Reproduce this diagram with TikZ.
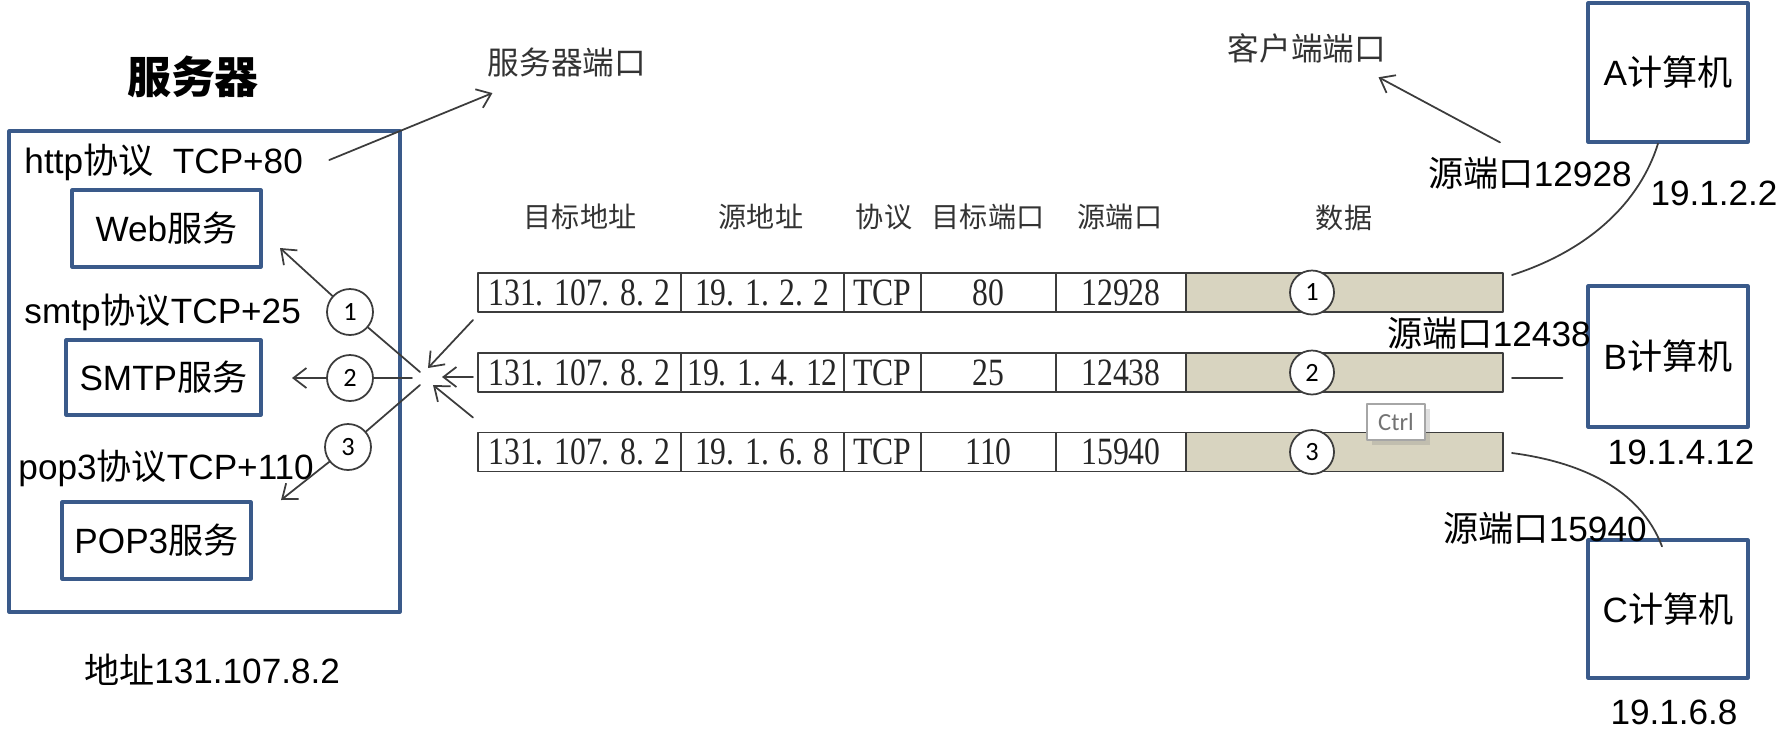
\documentclass[tikz,border=0pt]{standalone}
\usepackage{fontspec}
\usepackage{graphicx}
\setmainfont{Liberation Sans}
\newfontfamily\cjk{Noto Sans CJK SC}
\newfontfamily\tblfont{Liberation Serif}
\newfontfamily\numfont{Carlito}
\usetikzlibrary{arrows.meta,positioning,shadows}
\definecolor{boxblue}{RGB}{58,90,138}
\definecolor{datafill}{RGB}{216,212,192}
\definecolor{linegray}{RGB}{60,60,60}
\newcommand{\zh}[1]{{\cjk #1}}
\newcommand{\tbl}[1]{\scalebox{0.82}[1]{#1}}

\begin{document}
\begin{tikzpicture}[line cap=round,line join=round,>={Straight Barb[length=1.3mm,width=2mm]},x=0.1mm,y=-0.1mm,
  lbl/.style={inner sep=0.5pt,font=\fontsize{10}{12}\selectfont},
  zhlbl/.style={inner sep=0.5pt,text=black!80,font=\cjk\fontsize{9}{11}\selectfont},
  head/.style={inner sep=0.5pt,text=black!80,font=\cjk\fontsize{8}{10}\selectfont},
  bluebox/.style={draw=boxblue,line width=0.9pt,inner sep=0pt,font=\fontsize{10}{12}\selectfont},
  cell/.style={draw=linegray,line width=0.5pt,minimum height=3.9mm,inner sep=0pt,outer sep=0pt,anchor=west,text=black!85,font=\tblfont\fontsize{11}{12}\selectfont},
  num/.style={circle,draw=linegray,fill=white,line width=0.5pt,inner sep=0pt,font=\numfont\fontsize{7.5}{8}\selectfont},
  wire/.style={draw=linegray,line width=0.5pt}]

\useasboundingbox (0,0) rectangle (1777,732);

\node[inner sep=0pt,font=\cjk\bfseries\fontsize{12.5}{14}\selectfont] (title) at (193,77) {服务器};
\node[bluebox,minimum width=39.1mm,minimum height=48.1mm] (server) at (204.5,371.5) {};
\node[lbl,anchor=west] (httpl) at (22,162) {http\zh{协议}\ \ TCP+80};
\node[bluebox,minimum width=18.9mm,minimum height=7.7mm] (web) at (166.5,228.5) {Web\zh{服务}};
\node[lbl,anchor=west] (smtpl) at (22,312) {smtp\zh{协议}TCP+25};
\node[bluebox,minimum width=19.5mm,minimum height=7.5mm] (smtp) at (163.5,377.5) {SMTP\zh{服务}};
\node[lbl,anchor=west] (popl) at (16,468) {pop3\zh{协议}TCP+110};
\node[bluebox,minimum width=18.9mm,minimum height=7.7mm] (pop) at (156.5,540.5) {POP3\zh{服务}};
\node[lbl] (addr) at (212,670) {\zh{地址}131.107.8.2};
\node[zhlbl] (svport) at (567,62) {服务器端口};
\draw[wire,->] ([shift={(24,-2)}]httpl.east) -- ([shift={(7,14)}]svport.south west);

\node[head] (hdst) at (580,217) {目标地址};
\node[head] (hsrc) at (761,217) {源地址};
\node[head] (hpro) at (884,217) {协议};
\node[head] (hdp) at (988,217) {目标端口};
\node[head] (hsp) at (1120,217) {源端口};
\node[head] (hdat) at (1344,218) {数据};

\foreach \r/\yy/\saddr/\dport/\sport in {1/292.5/19. 1. 2. 2/80/12928,2/372.5/19. 1. 4. 12/25/12438,3/452/19. 1. 6. 8/110/15940}{
  \node[cell,minimum width=20.3mm] (dst\r) at (478,\yy) {\tbl{131. 107. 8. 2}};
  \node[cell,minimum width=16.3mm,right=0pt of dst\r] (src\r) {\tbl{\saddr}};
  \node[cell,minimum width=7.7mm,right=0pt of src\r] (pro\r) {\tbl{TCP}};
  \node[cell,minimum width=13.5mm,right=0pt of pro\r] (dpt\r) {\tbl{\dport}};
  \node[cell,minimum width=13mm,right=0pt of dpt\r] (spt\r) {\tbl{\sport}};
  \node[cell,minimum width=31.7mm,fill=datafill,right=0pt of spt\r] (dat\r) {};
  \node[num,minimum size=4.4mm] (dn\r) at (1312,\yy) {\r};
}

\node[num,minimum size=4.6mm] (c1) at (350,312) {1};
\node[num,minimum size=4.6mm] (c2) at (350,378) {2};
\node[num,minimum size=4.6mm] (c3) at (348,447) {3};
\coordinate (h1) at (420,372);
\coordinate (h2) at (412,378);
\coordinate (h3) at (420,385);
\coordinate (t1) at (280,248);
\coordinate (t2) at (292,378);
\coordinate (t3) at (281,500);
\coordinate (g1) at (428,368);
\coordinate (g2) at (442,377);
\coordinate (g3) at (433,385);
\draw[wire] (h1) -- (c1);
\draw[wire] (h2) -- (c2);
\draw[wire] (h3) -- (c3);
\draw[wire,->] (c1) -- (t1);
\draw[wire,->] (c2) -- (t2);
\draw[wire,->] (c3) -- (t3);
\draw[wire,->] ([shift={(-5,8)}]dst1.south west) -- (g1);
\draw[wire,->] ([shift={(-5,4.5)}]dst2.west) -- (g2);
\draw[wire,->] ([shift={(-5,-15)}]dst3.north west) -- (g3);

\node[zhlbl] (cliport) at (1307,48) {客户端端口};
\node[bluebox,minimum width=16mm,minimum height=13.9mm] (pcA) at (1668,72.5) {A\zh{计算机}};
\node[bluebox,minimum width=16mm,minimum height=14.1mm] (pcB) at (1668,356.5) {B\zh{计算机}};
\node[bluebox,minimum width=16mm,minimum height=13.8mm] (pcC) at (1668,609) {C\zh{计算机}};
\node[lbl] (ipA) at (1714,193) {19.1.2.2};
\node[lbl] (ipB) at (1681,452) {19.1.4.12};
\node[lbl] (ipC) at (1674,712) {19.1.6.8};
\node[lbl] (spA) at (1530,173) {\zh{源端口}12928};
\node[lbl] (spB) at (1489,333) {\zh{源端口}12438};
\node[lbl] (spC) at (1545,528) {\zh{源端口}15940};
\draw[wire,->] ([shift={(-30,-12)}]spA.north) -- ([shift={(-10,12)}]cliport.south east);
\draw[wire] ([shift={(9,2)}]dat1.north east) .. controls +(78,-25) and +(-18,58) .. ([xshift=-1mm]pcA.south);
\draw[wire] ([shift={(9,5.5)}]dat2.east) -- ([shift={(-24,21.5)}]pcB.west);
\draw[wire] ([shift={(9,1)}]dat3.east) .. controls +(68,9) and +(-22,-58) .. ([shift={(-6,8)}]pcC.north);

\node[draw=black!35,fill=white,line width=0.4pt,minimum width=5.8mm,minimum height=3.6mm,inner sep=0pt,text=black!55,font=\numfont\fontsize{7}{8}\selectfont,drop shadow={shadow xshift=0.5mm,shadow yshift=-0.5mm,opacity=0.25}] (ctrl) at (1396,422) {Ctrl};
\end{tikzpicture}
\end{document}
